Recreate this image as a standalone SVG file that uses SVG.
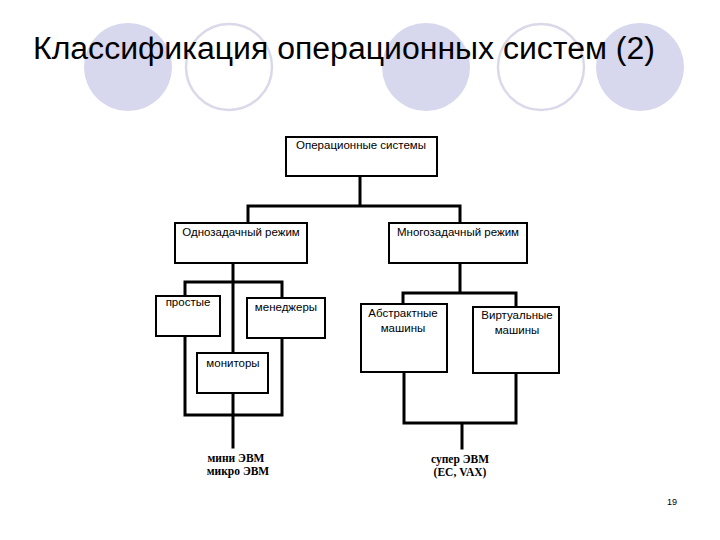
<svg xmlns="http://www.w3.org/2000/svg" width="720" height="540" viewBox="0 0 720 540">
<style>
.bg{fill:#ffffff}
.cf{fill:#d7d7ee;stroke:none}
.co{fill:none;stroke:#d9d9ea;stroke-width:2.5}
.title{font-family:"Liberation Sans",Arial,sans-serif;font-size:31px;fill:#000}
.box{fill:#ffffff;stroke:#000;stroke-width:2}
.lbl{font-family:"Liberation Sans",Arial,sans-serif;font-size:11.5px;fill:#000;text-anchor:middle}
.conn{fill:none;stroke:#000;stroke-width:3;stroke-linecap:square}
.ser{font-family:"Liberation Serif","Times New Roman",serif;font-size:11.5px;font-weight:bold;fill:#000;text-anchor:middle}
.pg{font-family:"Liberation Sans",Arial,sans-serif;font-size:9px;fill:#000;text-anchor:middle}
</style>
<rect class="bg" x="0" y="0" width="720" height="540"/>
<g id="decor">
<circle class="cf" cx="128" cy="67" r="44"/>
<circle class="co" cx="229" cy="67" r="43"/>
<circle class="cf" cx="426" cy="67" r="44"/>
<circle class="co" cx="541" cy="67" r="43"/>
<circle class="cf" cx="640" cy="67" r="44"/>
</g>
<text class="title" x="33" y="59" textLength="622" lengthAdjust="spacingAndGlyphs">Классификация операционных систем (2)</text>
<g id="connectors">
<path class="conn" d="M360 176 V206 M248 206 H460 M248 206 V223 M460 206 V223"/>
<path class="conn" d="M233 263 V353 M185 282 H282 M185 282 V296 M282 282 V298"/>
<path class="conn" d="M185 336 V415 M282 338 V415 M185 415 H282 M233 393 V447"/>
<path class="conn" d="M460 263 V293 M403 293 H516 M403 293 V304 M516 293 V307"/>
<path class="conn" d="M404 372 V423 M516 373 V423 M404 423 H516 M462 423 V448"/>
</g>
<g id="os">
<rect class="box" x="286" y="137" width="151" height="39"/>
<text class="lbl" x="361" y="149">Операционные системы</text>
</g>
<g id="single">
<rect class="box" x="175" y="223" width="132" height="40"/>
<text class="lbl" x="241" y="236">Однозадачный режим</text>
</g>
<g id="multi">
<rect class="box" x="389" y="223" width="138" height="40"/>
<text class="lbl" x="458" y="236">Многозадачный режим</text>
</g>
<g id="simple">
<rect class="box" x="156" y="296" width="64" height="40"/>
<text class="lbl" x="188" y="306">простые</text>
</g>
<g id="managers">
<rect class="box" x="247" y="298" width="78" height="40"/>
<text class="lbl" x="286" y="311">менеджеры</text>
</g>
<g id="monitors">
<rect class="box" x="197" y="353" width="71" height="40"/>
<text class="lbl" x="233" y="367">мониторы</text>
</g>
<g id="abstract">
<rect class="box" x="361" y="304" width="86" height="68"/>
<text class="lbl" x="403" y="317">Абстрактные</text>
<text class="lbl" x="403" y="332">машины</text>
</g>
<g id="virtual">
<rect class="box" x="473" y="307" width="86" height="66"/>
<text class="lbl" x="517" y="319">Виртуальные</text>
<text class="lbl" x="517" y="334">машины</text>
</g>
<g id="mini">
<text class="ser" x="236" y="462">мини ЭВМ</text>
<text class="ser" x="238" y="475">микро ЭВМ</text>
</g>
<g id="super">
<text class="ser" x="460" y="463">супер ЭВМ</text>
<text class="ser" x="460" y="476">(ЕС, VAX)</text>
</g>
<text class="pg" x="672" y="505">19</text>
</svg>
